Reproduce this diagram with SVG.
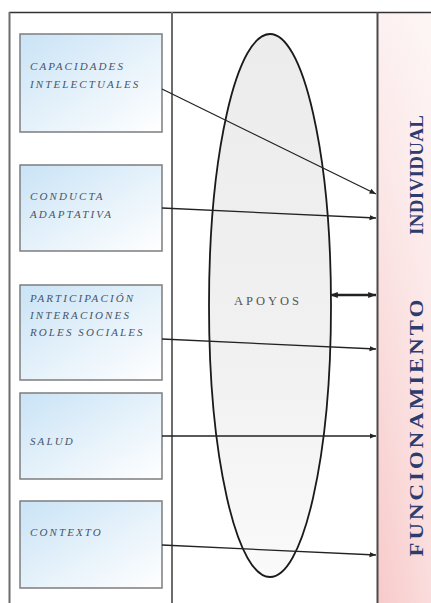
<svg xmlns="http://www.w3.org/2000/svg" width="431" height="603" viewBox="0 0 431 603">
<style>
.box{stroke:#7d7d7d;stroke-width:1.5;fill:url(#blue)}
.lbl{font-family:"Liberation Serif","Times New Roman",serif;font-style:italic;font-size:11px;fill:#47556a;letter-spacing:2.1px}
.conn{stroke:#222;stroke-width:1.3;fill:none;marker-end:url(#ah)}
.side{font-family:"Liberation Serif","Times New Roman",serif;font-weight:bold;font-size:19px;fill:#2c3c6e}
</style>
<defs>
<linearGradient id="blue" x1="0" y1="0" x2="1" y2="1">
<stop offset="0" stop-color="#c9e3f6"/>
<stop offset="0.6" stop-color="#eaf4fb"/>
<stop offset="1" stop-color="#ffffff"/>
</linearGradient>
<linearGradient id="pink" x1="0" y1="0" x2="0" y2="1">
<stop offset="0" stop-color="#fdf1f1"/>
<stop offset="1" stop-color="#f8caca"/>
</linearGradient>
<linearGradient id="pinkh" x1="0" y1="0" x2="1" y2="0">
<stop offset="0" stop-color="#fff" stop-opacity="0"/>
<stop offset="1" stop-color="#fff" stop-opacity="0.35"/>
</linearGradient>
<linearGradient id="gray" x1="0" y1="0" x2="0" y2="1">
<stop offset="0" stop-color="#ececec"/>
<stop offset="0.6" stop-color="#f1f1f1"/>
<stop offset="1" stop-color="#fafafa"/>
</linearGradient>
<marker id="ah" viewBox="0 0 10 10" refX="10" refY="5" markerWidth="5" markerHeight="5" orient="auto" markerUnits="strokeWidth">
<path d="M0,1 L10,5 L0,9 z" fill="#222"/>
</marker>
<marker id="ah2" viewBox="0 0 10 10" refX="10" refY="5" markerWidth="3" markerHeight="3" orient="auto-start-reverse" markerUnits="strokeWidth">
<path d="M0,1 L10,5 L0,9 z" fill="#222"/>
</marker>
</defs>
<rect x="0" y="0" width="431" height="603" fill="#fff"/>
<g id="frame">
<rect x="378" y="12" width="53" height="591" fill="url(#pink)"/>
<rect x="378" y="12" width="53" height="591" fill="url(#pinkh)"/>
<line x1="9" y1="12.5" x2="431" y2="12.5" stroke="#333" stroke-width="1.5"/>
<line x1="9.5" y1="12" x2="9.5" y2="603" stroke="#6d6d6d" stroke-width="2"/>
<line x1="172" y1="12" x2="172" y2="603" stroke="#6d6d6d" stroke-width="2"/>
<line x1="377.5" y1="12" x2="377.5" y2="603" stroke="#4a4a4a" stroke-width="2"/>
</g>
<g id="apoyos">
<ellipse cx="270" cy="305.5" rx="61" ry="271.5" fill="url(#gray)" stroke="#1a1a1a" stroke-width="1.8"/>
<text x="268" y="305" text-anchor="middle" font-family="'Liberation Serif','Times New Roman',serif" font-size="12.5" fill="#555" letter-spacing="3">APOYOS</text>
</g>
<g id="capacidades">
<rect class="box" x="20" y="34" width="142" height="98"/>
<text class="lbl" x="30" y="70">CAPACIDADES</text>
<text class="lbl" x="30" y="88">INTELECTUALES</text>
</g>
<g id="conducta">
<rect class="box" x="20" y="165" width="142" height="86"/>
<text class="lbl" x="30" y="200">CONDUCTA</text>
<text class="lbl" x="30" y="218">ADAPTATIVA</text>
</g>
<g id="participacion">
<rect class="box" x="20" y="285" width="142" height="95"/>
<text class="lbl" x="30" y="302">PARTICIPACIÓN</text>
<text class="lbl" x="30" y="319">INTERACIONES</text>
<text class="lbl" x="30" y="336">ROLES SOCIALES</text>
</g>
<g id="salud">
<rect class="box" x="20" y="393" width="142" height="86"/>
<text class="lbl" x="30" y="445">SALUD</text>
</g>
<g id="contexto">
<rect class="box" x="20" y="501" width="142" height="87"/>
<text class="lbl" x="30" y="536">CONTEXTO</text>
</g>
<g id="funcionamiento">
<text class="side" transform="translate(423,175) rotate(-90)" text-anchor="middle" textLength="120" lengthAdjust="spacing">INDIVIDUAL</text>
<text class="side" transform="translate(423,428) rotate(-90) scale(1.2,1)" text-anchor="middle" textLength="214" lengthAdjust="spacing">FUNCIONAMIENTO</text>
</g>
<g id="connectors">
<line class="conn" x1="162" y1="89" x2="376" y2="194"/>
<line class="conn" x1="162" y1="208" x2="376" y2="218"/>
<line class="conn" x1="162" y1="339" x2="376" y2="349"/>
<line class="conn" x1="162" y1="436" x2="376" y2="436"/>
<line class="conn" x1="162" y1="545" x2="376" y2="555"/>
<line x1="330" y1="295" x2="376" y2="295" stroke="#222" stroke-width="2.6" marker-start="url(#ah2)" marker-end="url(#ah2)"/>
</g>
</svg>
